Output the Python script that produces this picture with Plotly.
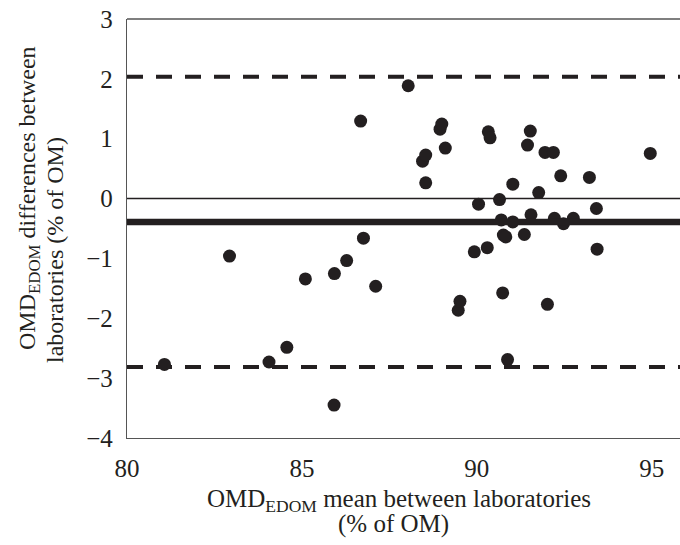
import plotly.graph_objects as go

# Bland-Altman data: mean of the two laboratories (x) and their difference (y), % of OM
omd_mean = [81.07, 82.93, 84.06, 84.57, 85.10, 85.93, 85.92, 86.28, 86.68, 86.76,
            87.11, 88.04, 88.45, 88.54, 88.54, 88.95, 89.00, 89.10, 89.47, 89.52,
            89.93, 90.05, 90.30, 90.33, 90.38, 90.65, 90.70, 90.74, 90.76, 90.83,
            90.88, 91.03, 91.03, 91.36, 91.45, 91.53, 91.55, 91.77, 91.95, 92.02,
            92.19, 92.22, 92.40, 92.48, 92.76, 93.22, 93.42, 93.44, 94.96]
omd_diff = [-2.77, -0.96, -2.73, -2.485, -1.343, -1.253, -3.45, -1.036, 1.294, -0.662,
            -1.465, 1.885, 0.625, 0.726, 0.263, 1.16, 1.244, 0.843, -1.866, -1.716,
            -0.89, -0.094, -0.82, 1.115, 1.015, -0.016, -0.356, -1.576, -0.61, -0.64,
            -2.69, 0.241, -0.39, -0.60, 0.893, 1.127, -0.27, 0.10, 0.771, -1.766,
            0.771, -0.33, 0.38, -0.42, -0.33, 0.353, -0.166, -0.846, 0.754]

bias = -0.39          # mean difference
upper_loa = 2.035     # bias + 1.96 SD
lower_loa = -2.815    # bias - 1.96 SD

x_ticks = [80, 85, 90, 95]
y_ticks = [-4, -3, -2, -1, 0, 1, 2, 3]

W, H = 680, 545
L, R, T, B = 127, 0, 19, 107
INK = "#231f20"
FONT = "Liberation Serif, Times New Roman, serif"


def px_to_paper(px, py):
    return (px - L) / (W - L - R), (H - B - py) / (H - T - B)


fig = go.Figure()
fig.add_trace(go.Scatter(
    x=omd_mean, y=omd_diff, mode="markers",
    marker=dict(size=13, color=INK, line=dict(width=0)),
    showlegend=False, hoverinfo="x+y",
))

# reference lines: zero, bias, limits of agreement
fig.add_shape(type="line", xref="paper", x0=0, x1=1, yref="y", y0=0, y1=0,
              line=dict(color=INK, width=1.6))
fig.add_shape(type="line", xref="paper", x0=0, x1=1, yref="y", y0=bias, y1=bias,
              line=dict(color=INK, width=6.5))
for lim in (upper_loa, lower_loa):
    fig.add_shape(type="line", xref="paper", x0=0, x1=1, yref="y", y0=lim, y1=lim,
                  line=dict(color=INK, width=4, dash="16px,13px"))
# top frame line
fig.add_shape(type="line", xref="paper", x0=0, x1=1, yref="paper", y0=1, y1=1,
              line=dict(color="#555", width=1.3))

# axis titles
ax1, ay1 = px_to_paper(399, 500)
ax2, ay2 = px_to_paper(393, 524)
fig.add_annotation(x=ax1, y=ay1, xref="paper", yref="paper", showarrow=False,
                   text="OMD<sub>EDOM</sub> mean between laboratories",
                   font=dict(family=FONT, size=25, color=INK), xanchor="center", yanchor="middle")
fig.add_annotation(x=ax2, y=ay2, xref="paper", yref="paper", showarrow=False,
                   text="(% of OM)",
                   font=dict(family=FONT, size=25, color=INK), xanchor="center", yanchor="middle")
yx1, yy1 = px_to_paper(29, 198)
yx2, yy2 = px_to_paper(55, 250)
fig.add_annotation(x=yx1, y=yy1, xref="paper", yref="paper", showarrow=False, textangle=-90,
                   text="OMD<sub>EDOM</sub> differences between",
                   font=dict(family=FONT, size=24, color=INK), xanchor="center", yanchor="middle")
fig.add_annotation(x=yx2, y=yy2, xref="paper", yref="paper", showarrow=False, textangle=-90,
                   text="laboratories (% of OM)",
                   font=dict(family=FONT, size=24, color=INK), xanchor="center", yanchor="middle")

fig.update_layout(
    width=W, height=H,
    margin=dict(l=L, r=R, t=T, b=B, pad=0),
    paper_bgcolor="white", plot_bgcolor="white",
    font=dict(family=FONT, size=25, color=INK),
    xaxis=dict(range=[80, 95.81], tickvals=x_ticks, showgrid=False, zeroline=False,
               showline=True, linecolor="#555", linewidth=1.3, ticks="",
               ticklabelstandoff=8, tickfont=dict(size=25)),
    yaxis=dict(range=[-4, 3], tickvals=y_ticks, showgrid=False, zeroline=False,
               showline=True, linecolor="#555", linewidth=1.3, ticks="",
               ticklabelstandoff=8, tickfont=dict(size=25)),
)

fig.write_html("out.html")
